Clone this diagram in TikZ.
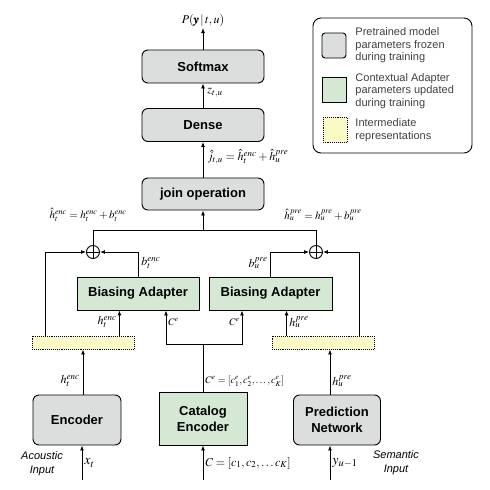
\documentclass[tikz,border=0pt]{standalone}
\usepackage{amsmath,amssymb}
\usepackage{mathptmx}
\usepackage{fontspec}
\setmainfont{Liberation Sans}
\usepackage{tikz}
\usetikzlibrary{shapes,arrows.meta,positioning,calc}
\usepackage{xcolor}
\definecolor{frozen}{HTML}{DCDEDD}
\definecolor{adapter}{HTML}{D5E8D4}
\definecolor{interm}{HTML}{FAFAC6}

\begin{document}
\begin{tikzpicture}[x=1pt,y=-1pt,line width=0.9pt,
  arr/.style={-{Latex[length=5pt,width=4pt]}},
  frozenbox/.style={draw,fill=frozen,rounded corners=6pt,inner sep=0pt,align=center,
    font=\fontsize{13}{16}\selectfont\bfseries},
  adapterbox/.style={draw,fill=adapter,inner sep=0pt,align=center,
    font=\fontsize{13}{16}\selectfont\bfseries},
  intermbar/.style={draw,densely dotted,fill=interm,inner sep=0pt,minimum width=102pt,minimum height=13pt},
  plus/.style={draw,circle,minimum size=13pt,inner sep=0pt,
    path picture={\draw (path picture bounding box.north) -- (path picture bounding box.south)
      (path picture bounding box.west) -- (path picture bounding box.east);}},
  lbl/.style={font=\fontsize{12}{14}\selectfont,inner sep=1pt},
  legtext/.style={font=\fontsize{11}{12.5}\selectfont,text=black!75,align=left,anchor=west,inner sep=0pt}]

\useasboundingbox (0,0) rectangle (490,490);

% Top stack
\node[frozenbox,minimum width=122pt,minimum height=33pt] (softmax) at (203,66.5) {Softmax};
\node[frozenbox,minimum width=122pt,minimum height=33pt] (dense) at (203,125) {Dense};
\node[frozenbox,minimum width=122pt,minimum height=32pt] (join) at (203,194) {join operation};

\coordinate (out) at (203,28);
\node[lbl,above] (pout) at (out) {$P(\pmb{y}\,|\,t,u)$};
\draw[arr] (softmax.north) -- (out);
\draw[arr] (dense.north) -- (softmax.south);
\node[lbl,anchor=west] (zlbl) at (206,93) {$z_{t,u}$};
\draw[arr] (join.north) -- (dense.south);
\node[lbl,anchor=west] (jlbl) at (206,157) {$\hat{j}_{t,u}=\hat{h}^{enc}_t+\hat{h}^{pre}_u$};

% Sums
\node[plus] (plusL) at (93,252) {};
\node[plus] (plusR) at (316,252) {};
\coordinate (jn) at (203,230);
\draw (plusL.north) -- (plusL |- jn) -- (plusR |- jn) -- (plusR.north);
\draw[arr] (jn) -- (join.south);
\node[lbl,font=\fontsize{11}{13}\selectfont] (hencsum) at (88,215) {$\hat{h}^{enc}_t=h^{enc}_t+b^{enc}_t$};
\node[lbl,font=\fontsize{11}{13}\selectfont] (hpresum) at (323,215) {$\hat{h}^{pre}_u=h^{pre}_u+b^{pre}_u$};

% Biasing adapters
\node[adapterbox,minimum width=122pt,minimum height=33pt] (baL) at (138,293.5) {Biasing Adapter};
\node[adapterbox,minimum width=123pt,minimum height=33pt] (baR) at (270.5,293.5) {Biasing Adapter};
\draw[arr] (baL.north) |- (plusL.east);
\draw[arr] (baR.north) |- (plusR.west);
\node[lbl,anchor=west] (benc) at (140,263) {$b^{enc}_t$};
\node[lbl,anchor=east] (bpre) at (269,263) {$b^{pre}_u$};

% Intermediate representations
\node[intermbar] (barL) at (83,342.5) {};
\node[intermbar] (barR) at (323,342.5) {};
\draw[arr] ($(barL.north west)+(14,0)$) |- (plusL.west);
\draw[arr] ($(barR.north east)+(-15,0)$) |- (plusR.east);
\draw[arr] ($(barL.north east)+(-15,0)$) coordinate (hl) -- (hl |- baL.south);
\draw[arr] ($(barR.north west)+(15,0)$) coordinate (hr) -- (hr |- baR.south);
\node[lbl,anchor=east] (henc1) at (118,322) {$h^{enc}_t$};
\node[lbl,anchor=west] (hpre1) at (288,322) {$h^{pre}_u$};

% Encoders
\node[frozenbox,minimum width=88pt,minimum height=50pt] (enc) at (77,420) {Encoder};
\node[adapterbox,minimum width=88pt,minimum height=53pt] (cat) at (203,418.5) {Catalog\\Encoder};
\node[frozenbox,minimum width=87pt,minimum height=50pt] (pred) at (337,420) {Prediction\\Network};

% Catalog context
\coordinate (cl) at (166,344);
\coordinate (cr) at (242,344);
\draw[arr] (cat.north) |- (cl) -- (cl |- baL.south);
\draw[arr] (cat.north) |- (cr) -- (cr |- baR.south);
\node[lbl,anchor=west,font=\fontsize{10}{12}\selectfont] (ceL) at (167,322) {$C^e$};
\node[lbl,anchor=east,font=\fontsize{10}{12}\selectfont] (ceR) at (241,322) {$C^e$};

\draw[arr] (barL.south |- enc.north) -- (barL.south);
\draw[arr] ($(pred.north)+(-7,0)$) coordinate (pn) -- (pn |- barR.south);
\node[lbl,anchor=east] (henc2) at (81,381) {$h^{enc}_t$};
\node[lbl,anchor=west,font=\fontsize{10}{12}\selectfont] (celist) at (204,381) {$C^e=[c^e_1,c^e_2,\ldots,c^e_K]$};
\node[lbl,anchor=west] (hpre2) at (331,381) {$h^{pre}_u$};

% Inputs
\coordinate (xin) at (82,480);
\coordinate (cin) at (203,480);
\coordinate (yin) at (330,480);
\draw[arr] (xin) -- (xin |- enc.south);
\draw[arr] (cin) -- (cin |- cat.south);
\draw[arr] (yin) -- (yin |- pred.south);
\node[lbl,anchor=west,font=\fontsize{14}{16}\selectfont] (xt) at (83,463) {$x_t$};
\node[lbl,anchor=west] (clist) at (204,463) {$C=[c_1,c_2,\ldots c_K]$};
\node[lbl,anchor=west,font=\fontsize{14}{16}\selectfont] (yu) at (331,463) {$y_{u-1}$};
\node[align=center,font=\fontsize{11}{14}\selectfont\itshape] (acin) at (42,464) {Acoustic\\Input};
\node[align=center,font=\fontsize{11}{14}\selectfont\itshape] (semin) at (396,463) {Semantic\\Input};

% Legend
\draw[rounded corners=8pt] (313,18) rectangle (472,153);
\draw[fill=frozen,rounded corners=3pt] (322,33) rectangle (346,58);
\node[legtext] (leg1) at (355,45.5) {Pretrained model\\parameters frozen\\during training};
\draw[fill=adapter] (322,77) rectangle (346,102);
\node[legtext] (leg2) at (355,91) {Contextual Adapter\\parameters updated\\during training};
\draw[densely dotted,fill=interm] (323,117) rectangle (347,142);
\node[legtext] (leg3) at (355,130) {Intermediate\\representations};

\end{tikzpicture}
\end{document}
